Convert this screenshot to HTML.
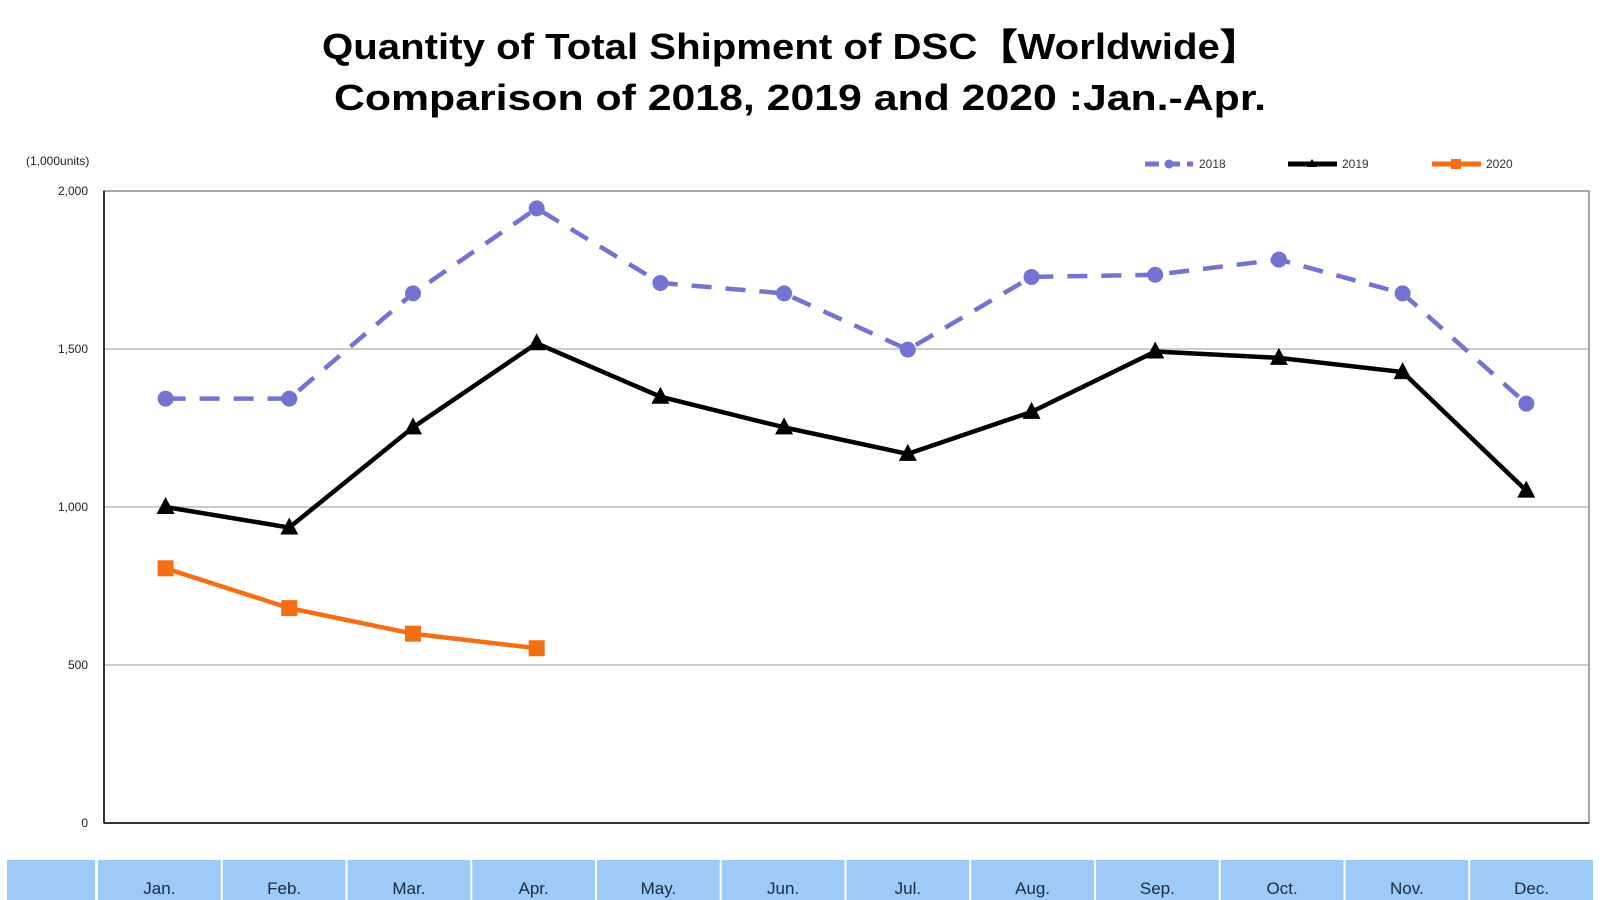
<!DOCTYPE html>
<html><head><meta charset="utf-8"><style>
body{margin:0;background:#fff;}
svg{display:block;font-family:"Liberation Sans",sans-serif;}
</style></head><body>
<svg id="chart" width="1600" height="900" viewBox="0 0 1600 900">
<text x="791" y="59" text-anchor="middle" font-size="36" font-weight="bold" textLength="938" lengthAdjust="spacingAndGlyphs">Quantity of Total Shipment of DSC【Worldwide】</text>
<text x="800" y="110" text-anchor="middle" font-size="36" font-weight="bold" textLength="932" lengthAdjust="spacingAndGlyphs">Comparison of 2018, 2019 and 2020 :Jan.-Apr.</text>
<text x="26" y="165" font-size="12" fill="#222">(1,000units)</text>
<g id="grid"></g>
<rect x="104" y="191" width="1485" height="632" fill="none" stroke="#888" stroke-width="1.5"/>
<line x1="104" y1="191" x2="104" y2="823" stroke="#333" stroke-width="2"/>
<line x1="104" y1="823" x2="1589" y2="823" stroke="#333" stroke-width="2"/>
<g id="series"></g>
<g id="legend" font-size="12" fill="#333">
<g>
<line x1="1145" y1="164" x2="1193" y2="164" stroke="#7373d2" stroke-width="5" stroke-dasharray="14,7"/>
<circle cx="1169" cy="164" r="4.5" fill="#7373d2"/>
<text x="1199" y="168">2018</text></g>
<g>
<line x1="1288" y1="164" x2="1337" y2="164" stroke="#000" stroke-width="5"/>
<polygon points="1312,159 1317,167 1307,167" fill="#000"/>
<text x="1342" y="168">2019</text></g>
<g>
<line x1="1432" y1="164" x2="1481" y2="164" stroke="#f56e14" stroke-width="5"/>
<rect x="1451" y="159" width="10" height="10" fill="#f56e14"/>
<text x="1486" y="168">2020</text></g>
</g>
<g id="table"></g>
</svg>
<script>
const months=["Jan.","Feb.","Mar.","Apr.","May.","Jun.","Jul.","Aug.","Sep.","Oct.","Nov.","Dec."];
const yTicks=[0,500,1000,1500,2000];
const yTickLabels=["0","500","1,000","1,500","2,000"];
const s2018=[1343,1343,1676,1945,1709,1676,1498,1728,1735,1783,1676,1327];
const s2019=[1000,935,1252,1518,1349,1252,1168,1301,1492,1472,1427,1052];
const s2020=[806,680,599,553];
const NS="http://www.w3.org/2000/svg";
const x0=104,x1=1589,y0=823,y1=191,cellW=(1594-97)/12;
function xs(i){return 165.6+123.7*i;}
function ys(v){return y0-(v/2000)*(y0-y1);}
function mk(tag,attrs,parent){const e=document.createElementNS(NS,tag);for(const k in attrs)e.setAttribute(k,attrs[k]);parent.appendChild(e);return e;}
const grid=document.getElementById('grid');
yTicks.forEach((t,i)=>{
  if(t>0&&t<2000){const l=mk('line',{x1:x0,x2:x1,y1:ys(t),y2:ys(t),stroke:'#bbb','stroke-width':1.5},grid);
  
  }
  const tx=mk('text',{x:88,y:ys(t)+4,'text-anchor':'end','font-size':12,fill:'#222'},grid);
  tx.textContent=yTickLabels[i];
  
  
});
const ser=document.getElementById('series');
function line(data,color,dash,name){
  const p=mk('polyline',{points:data.map((v,i)=>xs(i)+','+ys(v)).join(' '),fill:'none',stroke:color,'stroke-width':4.5,'stroke-dasharray':dash||'none','stroke-linejoin':'round'},ser);
  
  
}
line(s2018,'#7373d2','20,14','series-2018');
line(s2019,'#000',null,'series-2019');
line(s2020,'#f56e14',null,'series-2020');
s2018.forEach((v,i)=>{const c=mk('circle',{cx:xs(i),cy:ys(v),r:8,fill:'#7373d2'},ser);

});
s2019.forEach((v,i)=>{const x=xs(i),y=ys(v);const c=mk('polygon',{points:`${x},${y-10} ${x+9},${y+7} ${x-9},${y+7}`,fill:'#000'},ser);

});
s2020.forEach((v,i)=>{const c=mk('rect',{x:xs(i)-8,y:ys(v)-8,width:16,height:16,fill:'#f56e14'},ser);

});
const tb=document.getElementById('table');
const h=mk('rect',{x:7,y:860,width:88,height:40,fill:'#9dcaf7'},tb);


months.forEach((m,i)=>{
  const r=mk('rect',{x:97+cellW*i+1,y:860,width:cellW-2,height:40,fill:'#9dcaf7'},tb);
  
  
  const t=mk('text',{x:97+cellW*(i+0.5),y:894,'text-anchor':'middle','font-size':17,fill:'#1a2a40'},tb);
  t.textContent=m;
  
  
});
</script>
</body></html>
